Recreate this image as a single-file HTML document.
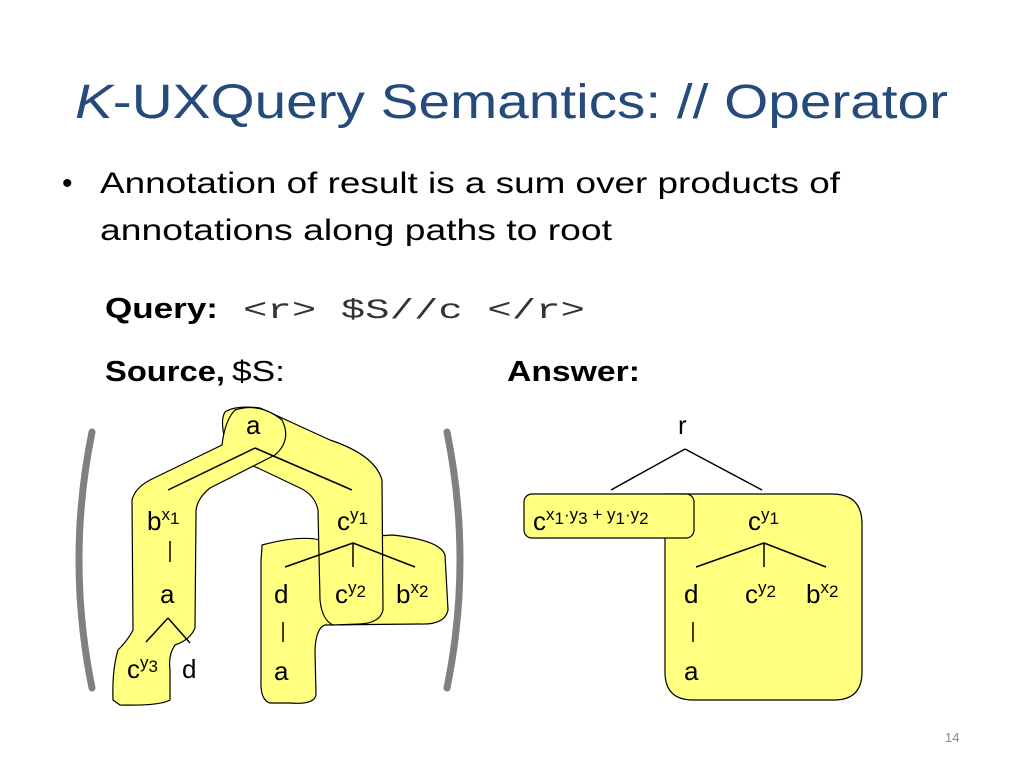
<!DOCTYPE html>
<html><head><meta charset="utf-8"><style>
html,body{margin:0;padding:0;background:#fff;}
svg{display:block;}
text{font-family:"Liberation Sans",sans-serif;}
</style></head><body>
<svg width="1024" height="768" viewBox="0 0 1024 768" xmlns="http://www.w3.org/2000/svg">
<text x="75" y="118" font-size="48" fill="#254a7c" textLength="873" lengthAdjust="spacingAndGlyphs"><tspan font-style="italic">K</tspan>-UXQuery Semantics: // Operator</text>
<text x="62" y="193" font-size="30" fill="#000">•</text>
<text x="100" y="193" font-size="30" fill="#000" textLength="740" lengthAdjust="spacingAndGlyphs">Annotation of result is a sum over products of</text>
<text x="100" y="240" font-size="30" fill="#000" textLength="512" lengthAdjust="spacingAndGlyphs">annotations along paths to root</text>
<text x="105" y="318" font-size="29" font-weight="bold" textLength="113" lengthAdjust="spacingAndGlyphs">Query:</text>
<text x="243" y="318" font-size="28" font-family="Liberation Mono,monospace" style="font-family:'Liberation Mono',monospace" fill="#333" textLength="342" lengthAdjust="spacingAndGlyphs">&lt;r&gt; $S//c &lt;/r&gt;</text>
<text x="105" y="381" font-size="29" font-weight="bold" textLength="120" lengthAdjust="spacingAndGlyphs">Source,</text>
<text x="232" y="381" font-size="29" textLength="53" lengthAdjust="spacingAndGlyphs">$S:</text>
<text x="507" y="381" font-size="29" font-weight="bold" textLength="133" lengthAdjust="spacingAndGlyphs">Answer:</text>

<!-- parentheses -->
<path d="M92,432 Q66,560 92,688" fill="none" stroke="#808080" stroke-width="7" stroke-linecap="round"/>
<path d="M447,432 Q473,560 447,688" fill="none" stroke="#808080" stroke-width="7" stroke-linecap="round"/>

<!-- yellow highlight shapes left -->
<g fill="#ffff80" stroke="#000" stroke-width="1.2">
<path d="M262,545 Q300,535 320,540 L392,535 Q440,540 445,555 L448,610 Q445,625 420,624 L325,625 Q316,628 315,650 L316,695 Q314,705 290,703 L270,703 Q260,700 261,680 L261,560 Q262,548 262,545 Z"/>
<path d="M225,412 Q235,405 260,408 L330,440 Q375,455 382,480 L383,610 Q380,623 360,624 L333,625 Q322,620 320,600 L318,510 Q315,495 300,488 L258,468 Q235,460 225,440 Q220,420 225,412 Z"/>
<path d="M235,410 Q260,402 282,420 Q292,440 275,455 L210,488 Q195,500 196,515 L195,628 Q190,640 175,645 Q168,655 170,670 L170,700 Q160,706 120,705 L113,700 Q112,670 118,650 Q128,640 133,630 L132,500 Q135,488 150,480 L222,445 Q225,420 235,410 Z"/>
</g>
<!-- left tree lines -->
<g stroke="#000" stroke-width="1.5" fill="none">
<line x1="255" y1="448" x2="168" y2="490"/>
<line x1="255" y1="448" x2="352" y2="490"/>
<line x1="170" y1="541" x2="170" y2="562"/>
<line x1="168" y1="618" x2="146" y2="642"/>
<line x1="168" y1="618" x2="190" y2="643"/>
<line x1="353" y1="543" x2="285" y2="567"/>
<line x1="353" y1="543" x2="353" y2="567"/>
<line x1="353" y1="543" x2="415" y2="567"/>
<line x1="283" y1="622" x2="283" y2="642"/>
</g>
<g font-size="26" fill="#000">
<text x="246" y="434">a</text>
<text x="147" y="530">b<tspan font-size="17" dy="-10">x</tspan><tspan font-size="17" dy="4">1</tspan></text>
<text x="337" y="530">c<tspan font-size="17" dy="-10">y</tspan><tspan font-size="17" dy="4">1</tspan></text>
<text x="160" y="603">a</text>
<text x="127" y="678">c<tspan font-size="17" dy="-10">y</tspan><tspan font-size="17" dy="4">3</tspan></text>
<text x="182" y="678">d</text>
<text x="274" y="603">d</text>
<text x="335" y="603">c<tspan font-size="17" dy="-10">y</tspan><tspan font-size="17" dy="4">2</tspan></text>
<text x="396" y="603">b<tspan font-size="17" dy="-10">x</tspan><tspan font-size="17" dy="4">2</tspan></text>
<text x="274" y="680">a</text>
</g>

<!-- right tree -->
<path d="M665,494 L832,494 Q862,494 862,524 L862,672 Q862,700 834,700 L693,700 Q665,700 665,672 Z" fill="#ffff80" stroke="#000" stroke-width="1.2"/>
<rect x="524" y="494" width="170" height="44" rx="8" fill="#ffff80" stroke="#000" stroke-width="1.2"/>
<g stroke="#000" stroke-width="1.5">
<line x1="685" y1="449" x2="611" y2="490"/>
<line x1="685" y1="449" x2="762" y2="490"/>
<line x1="764" y1="543" x2="696" y2="567"/>
<line x1="764" y1="543" x2="764" y2="567"/>
<line x1="764" y1="543" x2="826" y2="567"/>
<line x1="693" y1="622" x2="693" y2="642"/>
</g>
<g font-size="26" fill="#000">
<text x="678" y="434">r</text>
<text x="533" y="530">c<tspan font-size="17" dy="-10">x</tspan><tspan font-size="17" dy="4">1</tspan><tspan font-size="17" dy="-4">·y</tspan><tspan font-size="17" dy="4">3</tspan><tspan font-size="17" dy="-4"> + y</tspan><tspan font-size="17" dy="4">1</tspan><tspan font-size="17" dy="-4">·y</tspan><tspan font-size="17" dy="4">2</tspan></text>
<text x="748" y="530">c<tspan font-size="17" dy="-10">y</tspan><tspan font-size="17" dy="4">1</tspan></text>
<text x="684" y="603">d</text>
<text x="745" y="603">c<tspan font-size="17" dy="-10">y</tspan><tspan font-size="17" dy="4">2</tspan></text>
<text x="806" y="603">b<tspan font-size="17" dy="-10">x</tspan><tspan font-size="17" dy="4">2</tspan></text>
<text x="684" y="680">a</text>
</g>
<text x="945" y="742" font-size="13" fill="#888">14</text>
</svg>
</body></html>
